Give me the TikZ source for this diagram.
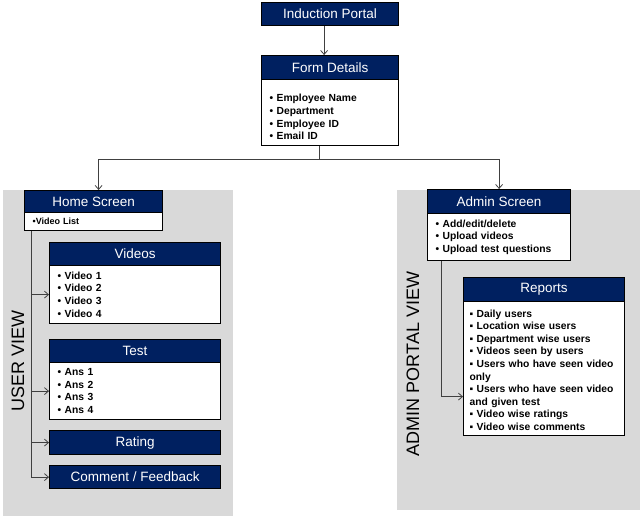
\documentclass[tikz,border=0pt]{standalone}
\usepackage{fontspec}
\setmainfont{Liberation Sans}
\usetikzlibrary{arrows.meta}
\definecolor{navy}{RGB}{0,32,96}
\definecolor{panelgray}{RGB}{217,217,217}
\definecolor{wiregray}{RGB}{64,64,64}
\begin{document}
\begin{tikzpicture}[x=1pt,y=-1pt,
  titlebox/.style={draw=black,line width=1.2pt,fill=navy,text=white,
    font=\fontsize{13.5}{15}\selectfont,inner sep=0pt,anchor=north west},
  bodybox/.style={draw=black,line width=1.2pt,fill=white,
    font=\bfseries\fontsize{10.3}{12.6}\selectfont,align=left,anchor=north west,
    inner ysep=0pt,inner xsep=8pt},
  bodytext/.style={font=\bfseries\fontsize{10.3}{12.6}\selectfont,align=left,inner sep=0pt},
  panel/.style={fill=panelgray,draw=none},
  wire/.style={draw=wiregray,line width=0.8pt},
  arr/.style={wire,-{Straight Barb[length=4pt,width=7pt]}},
  viewlabel/.style={rotate=90,font=\fontsize{18}{20}\selectfont,inner sep=0pt}
  ]
\useasboundingbox (0,0) rectangle (642,518);
% panels
\fill[panel] (3,190) rectangle (233,516);
\fill[panel] (397,190) rectangle (640,510);
\node[viewlabel] (uv) at (18,361) {USER VIEW};
\node[viewlabel] (av) at (413,364) {ADMIN PORTAL VIEW};
% top
\node[titlebox,minimum width=137pt,minimum height=23pt] (ip) at (261,2) {Induction Portal};
\node[titlebox,minimum width=137pt,minimum height=24pt] (fd) at (261,55) {Form Details};
\node[bodybox,minimum width=137pt,minimum height=66pt] (fdb) at (261,79) {};
\node[bodytext,text width=121pt] (fdt) at ([yshift=-4.5pt]fdb.center)
  {• Employee Name\\• Department\\• Employee ID\\• Email ID};
% home
\node[titlebox,minimum width=138pt,minimum height=22pt] (hs) at (24,190) {Home Screen};
\node[bodybox,minimum width=138pt,minimum height=18pt,text width=122pt,font=\bfseries\fontsize{9}{11}\selectfont] (hsb) at (24,212) {\raisebox{-1pt}{}•Video List};
\node[titlebox,minimum width=171pt,minimum height=23pt] (vd) at (49,242) {Videos};
\node[bodybox,minimum width=171pt,minimum height=58pt,text width=155pt] (vdb) at (49,265)
  {• Video 1\\• Video 2\\• Video 3\\• Video 4};
\node[titlebox,minimum width=171pt,minimum height=23pt] (ts) at (49,339) {Test};
\node[bodybox,minimum width=171pt,minimum height=57pt,text width=155pt] (tsb) at (49,362)
  {• Ans 1\\• Ans 2\\• Ans 3\\• Ans 4};
\node[titlebox,minimum width=171pt,minimum height=24pt] (rt) at (49,430) {Rating};
\node[titlebox,minimum width=171pt,minimum height=23pt] (cf) at (49,465) {Comment / Feedback};
% admin
\node[titlebox,minimum width=143pt,minimum height=24pt] (as) at (427,189) {Admin Screen};
\node[bodybox,minimum width=143pt,minimum height=47pt,text width=127pt] (asb) at (427,213)
  {• Add/edit/delete\\• Upload videos\\• Upload test questions};
\node[titlebox,minimum width=161pt,minimum height=24pt] (rp) at (463,277) {Reports};
\node[bodybox,minimum width=161pt,minimum height=134pt] (rpb) at (463,301) {};
\node[bodytext,text width=149pt] (rpt) at ([yshift=-1.5pt]rpb.center)
  {▪ Daily users\\▪ Location wise users\\▪ Department wise users\\▪ Videos seen by users\\▪ Users who have seen video\\only\\▪ Users who have seen video\\and given test\\▪ Video wise ratings\\▪ Video wise comments};
% connectors
\draw[arr] ([xshift=-6pt]ip.south) -- ([xshift=-6pt]fd.north);
\coordinate (split) at ([xshift=-11pt,yshift=-13pt]fdb.south);
\draw[wire] ([xshift=-11pt]fdb.south) -- (split);
\draw[arr] (split) -| ([xshift=5pt]hs.north);
\draw[arr] (split) -| (as.north);
\coordinate (hl) at ([xshift=7pt]hsb.south west);
\draw[arr] (hl) |- (cf.west);
\draw[arr] (hl |- vdb.west) -- (vdb.west);
\draw[arr] (hl |- tsb.west) -- (tsb.west);
\draw[arr] (hl |- rt.west) -- (rt.west);
\coordinate (al) at ([xshift=14pt]asb.south west);
\draw[arr] (al) |- ([yshift=-28pt]rpb.west);
\end{tikzpicture}
\end{document}
